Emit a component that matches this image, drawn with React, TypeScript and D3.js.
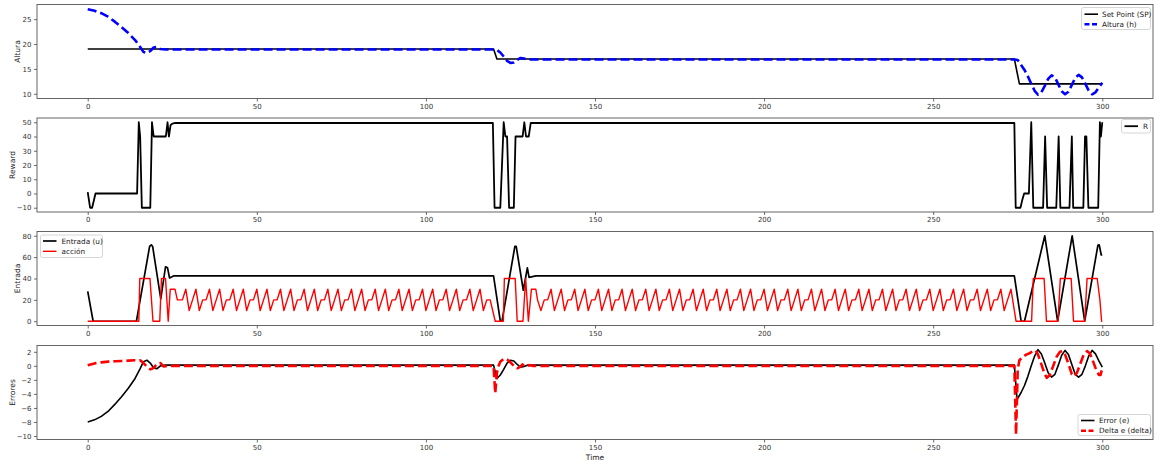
import { useEffect, useRef } from "react";
import * as d3 from "d3";

type Pt = [number, number];

const xTicks = [0, 50, 100, 150, 200, 250, 300];

// panel 1: Altura
const alturaTicks = [10, 15, 20, 25];
const spPts: Pt[] = [[0, 19], [120, 19], [121, 17], [274, 17], [275.5, 12], [300, 12]];
const alturaPts: Pt[] = [
  [0, 27], [2, 26.7], [4, 26.2], [6, 25.5], [8, 24.5], [10, 23.4], [12, 22.2], [14, 20.8],
  [15.5, 19.4], [16.5, 18.4], [17.5, 18.2], [18.5, 18.6], [19.5, 19.3], [20.5, 19.4], [21.5, 19.0],
  [23, 18.9], [120, 18.9], [121, 18.8], [122, 18.3], [123, 17.5], [124, 16.6], [125, 16.2],
  [126, 16.3], [127, 16.8], [128, 17.2], [129, 17.1], [130, 16.9], [274, 16.9], [275, 16.8],
  [276, 15.8], [277, 14.8], [278, 13.5], [279, 12], [280, 10.6], [281, 9.8], [282, 10.3],
  [283, 11.6], [284, 13], [285, 13.7], [286, 13.3], [287, 11.9], [288, 10.5], [289, 9.9],
  [290, 10.4], [291, 11.8], [292, 13.2], [293, 13.8], [294, 13.3], [295, 12], [296, 10.6],
  [297, 9.9], [298, 10.3], [299, 11.3], [300, 12.2],
];

// panel 2: Reward
const rewardTicks = [-10, 0, 10, 20, 30, 40, 50];
const rewardPts: Pt[] = [
  [0, 1], [0.7, -10], [1.3, -10], [2.3, 0], [14.6, 0], [15.1, 50], [15.5, 40], [16, -10],
  [18.5, -10], [19, 50], [19.5, 40], [23.1, 40], [23.6, 50], [24, 40], [24.5, 48], [25, 49],
  [26, 49.5], [119.8, 49.5], [120.3, -10], [122, -10], [123, 50], [123.5, 40], [124, 40],
  [124.6, -10], [126, -10], [126.5, 40], [128.6, 40], [129.1, 50], [129.6, 40], [130.4, 40],
  [131, 49.5], [274, 49.5], [274.4, -10], [275.8, -10], [276.3, -5], [276.9, 0], [278.3, 0],
  [279, 50], [279.6, -10], [282.5, -10], [283.1, 40], [283.7, -10], [286.4, -10], [287.1, 40],
  [287.6, -10], [290.3, -10], [291, 40], [291.4, -10], [294.4, -10], [294.9, 40], [295.3, 40],
  [295.9, -10], [298.8, -10], [299.3, 50], [299.6, 40], [300, 50],
];

// panel 3: Entrada / acción
const entradaTicks = [0, 20, 40, 60, 80];
const entradaPts: Pt[] = [
  [0, 28], [1.6, 0], [14.4, 0], [18.3, 70], [18.8, 71.5], [19.2, 70], [21.6, 21], [23, 51],
  [23.6, 50], [24.2, 40.5], [25.5, 42.5], [120, 42.5], [122, 0], [122.5, 0], [126.3, 70],
  [126.7, 70], [128.8, 29], [130, 50], [130.5, 41], [132.5, 42.5], [274, 42.5], [276, 0],
  [277, 0], [283, 80], [286.8, 0], [291.1, 80], [294.8, 0], [298.7, 71], [299.1, 71.5],
  [299.7, 62], [300, 62],
];
const accionPre: Pt[] = [
  [0, 0], [15.1, 0], [15.4, 40], [18.4, 40], [19.3, 0], [21.3, 0], [21.8, 40], [23, 40],
  [23.8, 0], [24.4, 30], [25.8, 30], [26.5, 20],
];
const accionSawAStart = 27;
const accionSawA = [
  20, 20, 30, 10, 20, 30, 10,
  20, 20, 30, 10, 20, 30, 10,
  20, 20, 30, 10, 20, 30, 10,
  20, 20, 30, 10, 20, 30, 10,
  20, 20, 30, 10, 20, 30, 10,
  20, 20, 30, 10, 20, 30, 10,
  20, 20, 30, 10, 20, 30, 10,
  20, 20, 30, 10, 20, 30, 10,
  20, 20, 30, 10, 20, 30, 10,
  20, 20, 30, 10, 20, 30, 10,
  20, 20, 30, 10, 20, 30, 10,
  20, 20, 30, 10, 20, 30, 10,
  20, 20, 30, 10, 20, 30, 10,
  20, 20,
];
const accionMid: Pt[] = [
  [120.5, 0], [122.9, 0], [123.2, 40], [126.4, 40], [127, 0], [128.7, 0], [129.5, 40],
  [130.3, 0], [131.2, 30], [132.5, 30],
];
const accionSawBStart = 133;
const accionSawB = [
  20, 10, 20, 20, 30, 10, 20,
  30, 10, 20, 20, 30, 10, 20,
  30, 10, 20, 20, 30, 10, 20,
  30, 10, 20, 20, 30, 10, 20,
  30, 10, 20, 20, 30, 10, 20,
  30, 10, 20, 20, 30, 10, 20,
  30, 10, 20, 20, 30, 10, 20,
  30, 10, 20, 20, 30, 10, 20,
  30, 10, 20, 20, 30, 10, 20,
  30, 10, 20, 20, 30, 10, 20,
  30, 10, 20, 20, 30, 10, 20,
  30, 10, 20, 20, 30, 10, 20,
  30, 10, 20, 20, 30, 10, 20,
  30, 10, 20, 20, 30, 10, 20,
  30, 10, 20, 20, 30, 10, 20,
  30, 10, 20, 20, 30, 10, 20,
  30, 10, 20, 20, 30, 10, 20,
  30, 10, 20, 20, 30, 10, 20,
  30, 10, 20, 20, 30, 10, 20,
  30, 10, 20, 20, 30, 10, 20,
  30,
];
const accionPost: Pt[] = [
  [274.5, 0], [279.1, 0], [279.6, 40], [282.8, 40], [283.5, 0], [286.9, 0], [287.6, 40],
  [290.8, 40], [291.5, 0], [294.8, 0], [295.5, 40], [298.5, 40], [299.3, 20], [299.8, 0], [300, 0],
];

// panel 4: Errores
const errorTicks = [-10, -8, -6, -4, -2, 0, 2];
const errorPts: Pt[] = [
  [0, -8], [2, -7.7], [4, -7.2], [6, -6.5], [8, -5.5], [10, -4.4], [12, -3.2], [14, -1.8],
  [15.5, -0.4], [16.5, 0.6], [17.5, 0.8], [18.5, 0.4], [19.5, -0.3], [20.5, -0.4], [21.5, 0],
  [23, 0.1], [120, 0.1], [121, -1.8], [122, -1.3], [123, -0.5], [124, 0.4], [125, 0.8],
  [126, 0.7], [127, 0.2], [128, -0.2], [129, -0.1], [130, 0.1], [274, 0.1], [274.8, -4.8],
  [276, -3.8], [277, -2.8], [278, -1.5], [279, 0], [280, 1.4], [281, 2.3], [282, 1.7],
  [283, 0.4], [284, -1], [285, -1.6], [286, -1.2], [287, 0.1], [288, 1.5], [289, 2.2],
  [290, 1.6], [291, 0.2], [292, -1.2], [293, -1.6], [294, -1.2], [295, 0], [296, 1.4],
  [297, 2.2], [298, 1.7], [299, 0.7], [300, -0.2],
];
const deltaPts: Pt[] = [
  [0, 0.1], [2, 0.35], [4, 0.5], [6, 0.6], [8, 0.65], [10, 0.7], [12, 0.75], [14, 0.8],
  [15.5, 0.8], [16.5, 0.4], [17.5, -0.1], [18.5, -0.5], [19.5, -0.3], [20.5, 0.3], [21.5, 0.4],
  [22.5, -0.1], [23.5, 0], [120, 0], [120.5, -3.9], [121, -1], [121.5, 0], [122, 0.6],
  [123, 1.0], [124, 0.9], [125, 0.5], [126, 0], [127, -0.35], [128, -0.1], [128.5, 0.2],
  [129.5, -0.1], [130.5, 0.1], [131.5, 0], [274, 0], [274.5, -9.8], [275, -0.5], [275.5, 0.8],
  [276.5, 1.3], [277.5, 1.6], [278.5, 1.8], [279.5, 2.1], [280.3, 2.2], [281, 1.6], [282, 0.2],
  [283, -1.2], [283.6, -1.7], [284.5, -1.3], [285.5, 0], [286.5, 1.3], [287.5, 2], [288.3, 2.1],
  [289, 1.6], [290, 0.3], [291, -1.2], [291.6, -1.5], [292.5, -1], [293.5, 0.3], [294.5, 1.6],
  [295.5, 2.1], [296.3, 1.8], [297, 1], [298, -0.3], [299, -1.3], [299.5, -1.3], [300, -0.3],
];

const FONT = "DejaVu Sans, sans-serif";
const fmt = (d: number) => (d < 0 ? "\u2212" + Math.abs(d) : String(d));

interface Series { pts: Pt[]; color: string; width: number; dash?: string; name?: string }
interface Legend { x: number; y: number; w: number; h: number; rows: number[]; sx: number; tx: number }

export default function App() {
  const ref = useRef<SVGSVGElement | null>(null);

  useEffect(() => {
    const el = ref.current;
    if (!el) return;
    const svg = d3.select(el);
    svg.selectAll("*").remove();

    const x = d3.scaleLinear().domain([-15, 315]).range([37, 1153]);
    const ph = 94;

    const accionPts: Pt[] = [
      ...accionPre,
      ...accionSawA.map((v, i) => [accionSawAStart + i, v] as Pt),
      ...accionMid,
      ...accionSawB.map((v, i) => [accionSawBStart + i, v] as Pt),
      ...accionPost,
    ];

    const panels: {
      top: number; domain: [number, number]; ticks: number[]; label: string; labelX: number;
      series: Series[]; legend: Legend;
    }[] = [
      {
        top: 4.5, domain: [9.05, 27.95], ticks: alturaTicks, label: "Altura", labelX: 17,
        series: [
          { pts: spPts, color: "#000", width: 1.6, name: "Set Point (SP)" },
          { pts: alturaPts, color: "#0000ff", width: 2.6, dash: "9,4", name: "Altura (h)" },
        ],
        legend: { x: 1081.5, y: 7.5, w: 69, h: 22, rows: [14.2, 24.2], sx: 1084.5, tx: 1102 },
      },
      {
        top: 118, domain: [-13, 53], ticks: rewardTicks, label: "Reward", labelX: 12,
        series: [{ pts: rewardPts, color: "#000", width: 1.8, name: "R" }],
        legend: { x: 1121.5, y: 119.5, w: 29, h: 13.5, rows: [126.2], sx: 1124.5, tx: 1143 },
      },
      {
        top: 231.5, domain: [-4, 84], ticks: entradaTicks, label: "Entrada", labelX: 17,
        series: [
          { pts: entradaPts, color: "#000", width: 1.7, name: "Entrada (u)" },
          { pts: accionPts, color: "#ff0000", width: 1.4, name: "acción" },
        ],
        legend: { x: 40.5, y: 235, w: 62, h: 22.5, rows: [241, 251.3], sx: 43, tx: 61.5 },
      },
      {
        top: 345.5, domain: [-10.5, 2.9], ticks: errorTicks, label: "Errores", labelX: 12,
        series: [
          { pts: errorPts, color: "#000", width: 1.6, name: "Error (e)" },
          { pts: deltaPts, color: "#ff0000", width: 2.6, dash: "9,4", name: "Delta e (delta)" },
        ],
        legend: { x: 1078, y: 414.5, w: 72.5, h: 21, rows: [420.5, 430.8], sx: 1081, tx: 1099 },
      },
    ];

    panels.forEach((p) => {
      const y = d3.scaleLinear().domain(p.domain).range([p.top + ph, p.top]);
      const g = svg.append("g");

      const line = d3.line<Pt>().x((d) => x(d[0])).y((d) => y(d[1]));
      p.series.forEach((s) => {
        g.append("path")
          .datum(s.pts)
          .attr("fill", "none")
          .attr("stroke", s.color)
          .attr("stroke-width", s.width)
          .attr("stroke-dasharray", s.dash ?? null)
          .attr("stroke-linejoin", "round")
          .attr("d", line);
      });

      const xa = g.append("g")
        .attr("transform", `translate(0,${p.top + ph})`)
        .call(d3.axisBottom(x).tickValues(xTicks).tickSize(3).tickPadding(2.5).tickFormat((d) => fmt(+d)));
      const ya = g.append("g")
        .attr("transform", `translate(37,0)`)
        .call(d3.axisLeft(y).tickValues(p.ticks).tickSize(3).tickPadding(2.5).tickFormat((d) => fmt(+d)));
      [xa, ya].forEach((a) => {
        a.select(".domain").remove();
        a.selectAll(".tick line").attr("stroke", "#444").attr("stroke-width", 0.8);
        a.selectAll(".tick text").attr("fill", "#333").attr("font-size", 7).attr("font-family", FONT);
      });

      g.append("rect")
        .attr("x", 37).attr("y", p.top).attr("width", 1153 - 37).attr("height", ph)
        .attr("fill", "none").attr("stroke", "#555").attr("stroke-width", 0.9);

      g.append("text")
        .attr("transform", `translate(${p.labelX},${p.top + ph / 2}) rotate(-90)`)
        .attr("text-anchor", "middle").attr("dominant-baseline", "central")
        .attr("font-size", 7.5).attr("font-family", FONT).attr("fill", "#222")
        .text(p.label);

      const L = p.legend;
      g.append("rect")
        .attr("x", L.x).attr("y", L.y).attr("width", L.w).attr("height", L.h).attr("rx", 2)
        .attr("fill", "#fff").attr("fill-opacity", 0.85).attr("stroke", "#ccc").attr("stroke-width", 0.8);
      p.series.forEach((s, i) => {
        g.append("line")
          .attr("x1", L.sx).attr("x2", L.sx + 13.5).attr("y1", L.rows[i]).attr("y2", L.rows[i])
          .attr("stroke", s.color).attr("stroke-width", s.width)
          .attr("stroke-dasharray", s.dash ? "5,2.5" : null);
        g.append("text")
          .attr("x", L.tx).attr("y", L.rows[i]).attr("dominant-baseline", "central")
          .attr("font-size", 7.3).attr("font-family", FONT).attr("fill", "#222")
          .text(s.name ?? "");
      });
    });

    svg.append("text")
      .attr("x", 595).attr("y", 457).attr("text-anchor", "middle").attr("dominant-baseline", "central")
      .attr("font-size", 7.5).attr("font-family", FONT).attr("fill", "#222")
      .text("Time");
  }, []);

  return (
    <svg
      ref={ref}
      width={1156}
      height={464}
      style={{ position: "absolute", left: 0, top: 0, background: "#fff" }}
    />
  );
}
